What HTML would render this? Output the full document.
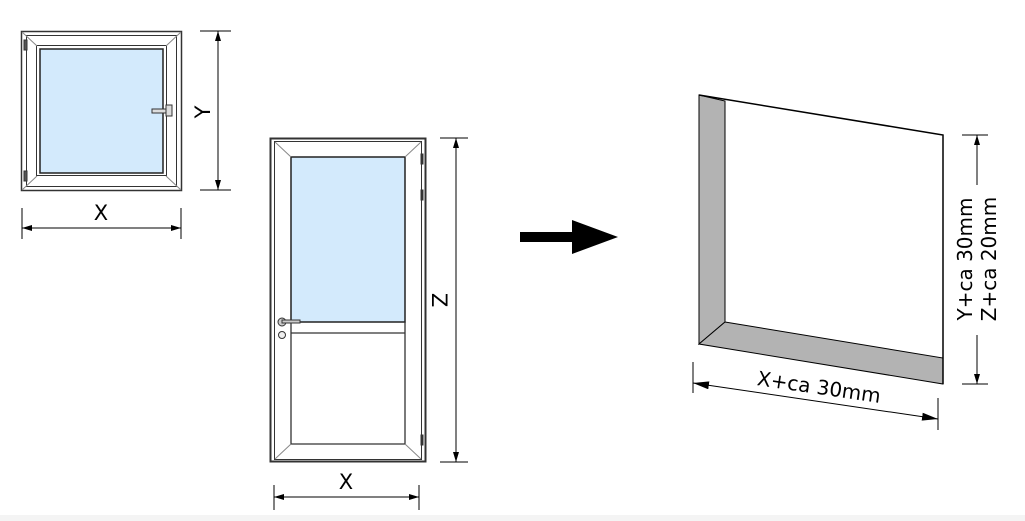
<!DOCTYPE html>
<html><head><style>html,body{margin:0;padding:0;background:#fff}svg{display:block}</style></head>
<body>
<svg width="1025" height="521" viewBox="0 0 1025 521" xmlns="http://www.w3.org/2000/svg" font-family="DejaVu Sans, sans-serif">
<defs>
<marker id="a" viewBox="0 0 10 6" refX="10" refY="3" markerWidth="10" markerHeight="6" orient="auto-start-reverse" markerUnits="userSpaceOnUse"><path d="M0,0L10,3L0,6z" fill="#000"/></marker>
<marker id="b" viewBox="0 0 16 8" refX="16" refY="4" markerWidth="16" markerHeight="8" orient="auto-start-reverse" markerUnits="userSpaceOnUse"><path d="M0,0L16,4L0,8z" fill="#000"/></marker>
</defs>
<rect x="0" y="515" width="1025" height="6" fill="#f4f4f4"/>
<!-- window -->
<g stroke="#333" fill="none" stroke-width="1">
<rect x="21.5" y="31.5" width="160" height="159" stroke-width="1.5"/>
<rect x="26.5" y="35.5" width="150" height="151"/>
<rect x="36.5" y="45.5" width="130" height="130"/>
<rect x="40" y="49" width="123" height="124" fill="#d3eafc" stroke="#222" stroke-width="1.5"/>
<path d="M22,32L37,46M181,32L166,46M181,190L166,176M22,190L37,176" stroke="#888"/>
<rect x="24" y="40" width="3" height="10" fill="#555"/>
<rect x="24" y="171" width="3" height="10" fill="#555"/>
<rect x="152" y="109" width="18" height="4" fill="#ddd"/>
<rect x="166" y="105" width="6" height="11" fill="#ddd"/>
</g>
<g stroke="#000" stroke-width="1">
<path d="M200,31H231M200,190H231M22,208V239M181,208V239"/>
<line x1="218" y1="31" x2="218" y2="190" marker-start="url(#a)" marker-end="url(#a)"/>
<line x1="22" y1="228" x2="181" y2="228" marker-start="url(#a)" marker-end="url(#a)"/>
</g>
<text x="101" y="220" font-size="21" text-anchor="middle">X</text>
<text transform="translate(210,112) rotate(-90)" font-size="21" text-anchor="middle">Y</text>
<!-- door -->
<g stroke="#333" fill="none" stroke-width="1">
<rect x="270.5" y="138.5" width="155" height="323" stroke-width="2"/>
<rect x="274.5" y="141.5" width="147" height="318"/>
<rect x="291" y="157" width="114" height="165" fill="#d3eafc" stroke="#222" stroke-width="1.5"/>
<path d="M291,333H405M291,322V444H405V322" stroke-width="1.3"/>
<path d="M275,142L291,157M421,142L405,157M275,459L291,444M421,459L405,444" stroke="#888"/>
<rect x="421" y="154" width="2" height="10" fill="#333"/>
<rect x="421" y="190" width="2" height="10" fill="#333"/>
<rect x="421" y="435" width="2" height="10" fill="#333"/>
<circle cx="282" cy="322" r="4" fill="#ccc"/>
<rect x="282" y="320" width="18" height="3" fill="#ccc"/>
<circle cx="282" cy="335" r="3.5" fill="#eee"/>
</g>
<g stroke="#000" stroke-width="1">
<path d="M440,138H468M440,462H468M274,485V510M419,485V510"/>
<line x1="456" y1="138" x2="456" y2="462" marker-start="url(#a)" marker-end="url(#a)"/>
<line x1="274" y1="497" x2="419" y2="497" marker-start="url(#a)" marker-end="url(#a)"/>
</g>
<text x="346" y="489" font-size="21" text-anchor="middle">X</text>
<text transform="translate(432,300) rotate(90)" font-size="21" text-anchor="middle">Z</text>
<!-- arrow -->
<rect x="520" y="232" width="55" height="10" fill="#000"/>
<path d="M572,220L618,237L572,254z" fill="#000"/>
<!-- opening -->
<path d="M699,95L725,101L725,322L699,344z" fill="#b3b3b3" stroke="#000"/>
<path d="M725,322L943,358L943,384L699,344z" fill="#b3b3b3" stroke="#000"/>
<path d="M699,95L943,135L943,384" fill="none" stroke="#000" stroke-width="1.5"/>
<g stroke="#000" stroke-width="1">
<path d="M962,135H988M962,384H988M693,362V393M938,398V430"/>
<line x1="977" y1="135" x2="977" y2="185" marker-start="url(#a)"/>
<line x1="977" y1="335" x2="977" y2="384" marker-end="url(#a)"/>
<line x1="693" y1="383" x2="938" y2="419" marker-start="url(#b)" marker-end="url(#b)"/>
</g>
<text transform="translate(972,259) rotate(-90)" font-size="20" text-anchor="middle">Y+ca 30mm</text>
<text transform="translate(996,259) rotate(-90)" font-size="20" text-anchor="middle">Z+ca 20mm</text>
<text transform="translate(818,394) rotate(8.3)" font-size="20" text-anchor="middle">X+ca 30mm</text>
</svg>
</body></html>
